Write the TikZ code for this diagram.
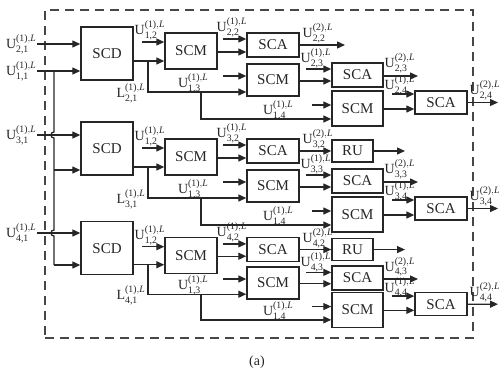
\documentclass[tikz,border=0pt]{standalone}
\usepackage{amsmath}
\usepackage{fontspec}
\setmainfont{Liberation Serif}
\usetikzlibrary{arrows.meta,calc}
\definecolor{ink}{HTML}{262626}
\newcommand\Ul[2]{$\text{U}^{\text{(#1)},\textit{L}}_{\text{#2}}$}
\newcommand\Ll[1]{$\text{L}^{\text{(1)},\textit{L}}_{\text{#1}}$}
\tikzset{
 blk/.style={draw=ink, line width=1.4pt, inner sep=0pt, font=\fontsize{15}{18}\selectfont, text=ink},
 wire/.style={draw=ink, line width=1.3pt},
 arr/.style={wire, -{Triangle[length=8pt,width=7pt]}},
 lbl/.style={inner sep=0.5pt, font=\fontsize{14}{16}\selectfont, text=ink},
 frame/.style={draw=ink!85, line width=1.4pt, dash pattern=on 9pt off 6pt},
}
\newcommand\grp[5]{%
\begin{scope}[shift={(0,#2)}, yscale=#3]
\node[blk, minimum width=52, minimum height=53] (scd#1) at (107,26.5+#4) {SCD};
\node[blk, minimum width=52, minimum height=36] (scmA#1) at (191,35) {SCM};
\node[blk, minimum width=52, minimum height=24] (scaA#1) at (273,29) {SCA};
\node[blk, minimum width=52, minimum height=32] (scmB#1) at (273,64) {SCM};
\node[blk, minimum width=51, minimum height=24] (scaB#1) at (357.5,59) {SCA};
\node[blk, minimum width=51, minimum height=35] (scmC#1) at (357.5,92.5) {SCM};
\node[blk, minimum width=52, minimum height=23] (scaC#1) at (441,86.5) {SCA};
% SCD -> SCM
\coordinate (a#1) at (142,26);
\draw[arr] (a#1) -- (a#1 -| scmA#1.west);
\node[lbl, anchor=south west] at (134,25) {\Ul{1}{1,2}};
\coordinate (j#1) at (148,45);
\draw[arr] (scd#1.east |- j#1) -- (j#1 -| scmA#1.west);
\coordinate (L#1) at (0,76);
\draw[arr] (j#1) |- (scmB#1.west |- L#1);
\node[lbl, anchor=east] at (146,77) {\Ll{#1,1}};
% SCA inputs
\coordinate (b#1) at (223,23);
\draw[arr] (b#1) -- (b#1 -| scaA#1.west);
\node[lbl, anchor=south west] at (216,22) {\Ul{1}{#1,2}};
\coordinate (c#1) at (0,36);
\draw[arr] (scmA#1.east |- c#1) -- (scaA#1.west |- c#1);
% SCA output
\ifnum#5=1
 \node[blk, minimum width=41, minimum height=22] (ru#1) at (352.5,29) {RU};
 \draw[arr] (scaA#1) -- (ru#1);
 \coordinate (r#1) at (405,29);
 \draw[arr] (ru#1) -- (r#1);
\else
 \coordinate (r#1) at (345,29);
 \draw[arr] (scaA#1) -- (r#1);
\fi
\node[lbl, anchor=south west] at (302,28) {\Ul{2}{#1,2}};
% SCM B inputs
\coordinate (d#1) at (223,60);
\draw[arr] (d#1) -- (d#1 -| scmB#1.west);
\node[lbl, anchor=east] at (209,67) {\Ul{1}{1,3}};
\coordinate (e#1) at (201,76);
\coordinate (f#1) at (0,103);
\draw[arr] (e#1) |- (scmC#1.west |- f#1);
% SCM B outputs
\coordinate (g#1) at (306,53);
\draw[arr] (g#1) -- (g#1 -| scaB#1.west);
\node[lbl, anchor=south west] at (300,53) {\Ul{1}{#1,3}};
\coordinate (h#1) at (0,65);
\draw[arr] (scmB#1.east |- h#1) -- (scaB#1.west |- h#1);
\coordinate (i#1) at (312,89);
\draw[arr] (i#1) -- (i#1 -| scmC#1.west);
\node[lbl, anchor=east] at (294,94) {\Ul{1}{1,4}};
% SCA B output and final SCA
\coordinate (k#1) at (418,60);
\draw[arr] (scaB#1.east |- k#1) -- (k#1);
\node[lbl, anchor=south west] at (384,58) {\Ul{2}{#1,3}};
\coordinate (m#1) at (392,78);
\draw[arr] (m#1) -- (m#1 -| scaC#1.west);
\node[lbl, anchor=south west] at (384,80) {\Ul{1}{#1,4}};
\coordinate (n#1) at (0,93);
\draw[arr] (scmC#1.east |- n#1) -- (scaC#1.west |- n#1);
\coordinate (o#1) at (498,86.5);
\draw[arr] (scaC#1) -- (o#1);
\node[lbl, anchor=south west] at (469,85) {\Ul{2}{#1,4}};
\end{scope}}
\begin{document}
\begin{tikzpicture}[x=1pt,y=-1pt]
\useasboundingbox (0,0) rectangle (502,372);
\node[frame, minimum width=428, minimum height=328, inner sep=0pt] (box) at (259,174) {};
\grp{2}{16}{1}{11}{0}
\grp{3}{122}{1}{0}{1}
\grp{4}{222}{0.95}{1}{1}
% external inputs
\coordinate (u21) at (37,44);
\draw[arr] (u21) -- (u21 -| scd2.west);
\node[lbl, anchor=east] at (u21) {\Ul{1}{2,1}};
\coordinate (u11) at (37,71);
\draw[arr] (u11) -- (u11 -| scd2.west);
\node[lbl, anchor=east] at (u11) {\Ul{1}{1,1}};
\coordinate (u31) at (37,135);
\draw[arr] (u31) -- (u31 -| scd3.west);
\node[lbl, anchor=east] at (u31) {\Ul{1}{3,1}};
\coordinate (u41) at (37,233);
\draw[arr] (u41) -- (u41 -| scd4.west);
\node[lbl, anchor=east] at (u41) {\Ul{1}{4,1}};
% shared vertical feed
\coordinate (v0) at (54,71);
\coordinate (v1) at (54,170);
\coordinate (v2) at (54,265);
\draw[wire] (v0) -- (54,132) .. controls (50,132) and (50,138) .. (54,138) -- (54,230) .. controls (50,230) and (50,236) .. (54,236) -- (v2);
\draw[arr] (v1) -- (v1 -| scd3.west);
\draw[arr] (v2) -- (v2 -| scd4.west);
\node[font=\fontsize{14}{16}\selectfont, text=ink] (cap) at (257,362) {(a)};
\end{tikzpicture}
\end{document}
